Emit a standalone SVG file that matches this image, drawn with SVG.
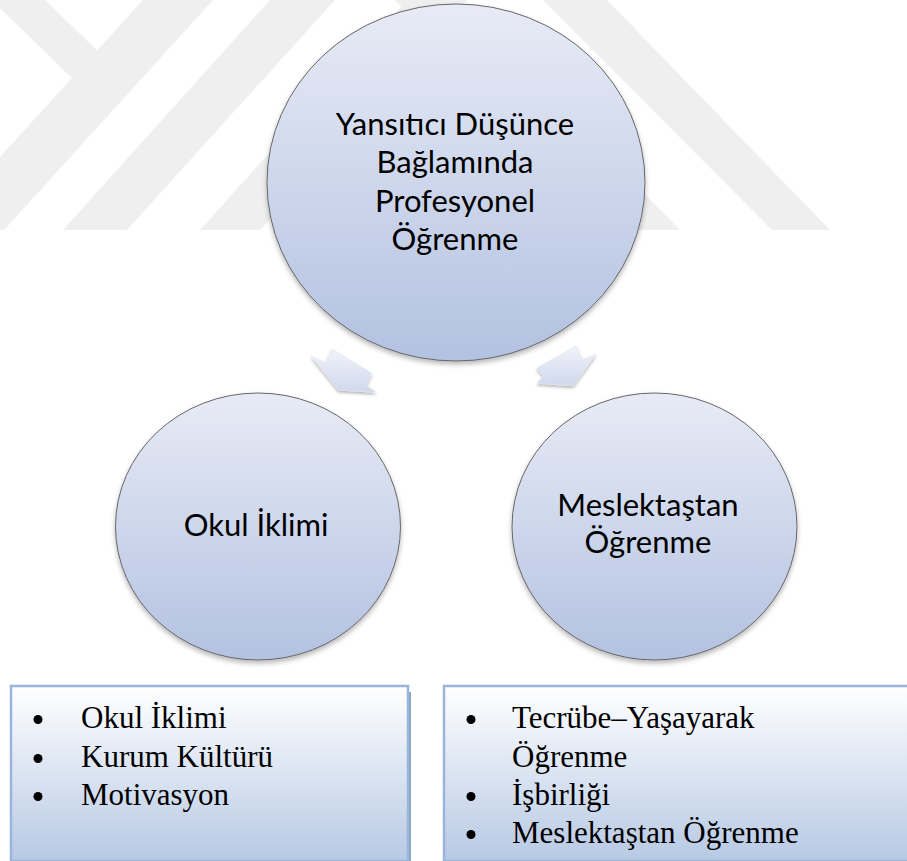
<svg xmlns="http://www.w3.org/2000/svg" width="907" height="861" viewBox="0 0 907 861">
  <defs>
    <linearGradient id="circleFill" x1="0" y1="0" x2="0" y2="1">
      <stop offset="0" stop-color="#e8ebf6"/>
      <stop offset="1" stop-color="#b3c2e1"/>
    </linearGradient>
    <linearGradient id="arrowFill" x1="0" y1="0" x2="0" y2="1">
      <stop offset="0" stop-color="#f1f3fa"/>
      <stop offset="1" stop-color="#d0d8ed"/>
    </linearGradient>
    <linearGradient id="boxFill" x1="0" y1="0" x2="0" y2="1">
      <stop offset="0" stop-color="#ffffff"/>
      <stop offset="1" stop-color="#b7c9e4"/>
    </linearGradient>
    <filter id="softShadow" x="-10%" y="-10%" width="120%" height="125%">
      <feDropShadow dx="0" dy="3" stdDeviation="2.5" flood-color="#000" flood-opacity="0.28"/>
    </filter>
    <filter id="arrowShadow" x="-20%" y="-20%" width="140%" height="150%">
      <feDropShadow dx="0" dy="2" stdDeviation="1.5" flood-color="#000" flood-opacity="0.3"/>
    </filter>
  </defs>
  <style>
    .mark { fill: #efefef; }
    .circle { fill: url(#circleFill); stroke: #666666; stroke-width: 1; filter: url(#softShadow); }
    .arrow { fill: url(#arrowFill); stroke: #e2e6f2; stroke-width: 0.6; filter: url(#arrowShadow); }
    .label { font-family: Lato, "Open Sans", sans-serif; font-size: 31px; fill: #000000; text-anchor: middle; }
    .box { fill: url(#boxFill); stroke: #9bb5da; stroke-width: 2.5; }
    .boxShadow { fill: #8ba3c7; }
    .item { font-family: "Liberation Serif", "Times New Roman", serif; font-size: 31px; fill: #000000; }
    .bullet { fill: #000000; }
  </style>

  <rect width="907" height="861" fill="#ffffff"/>

  <!-- faint background stripes -->
  <g id="watermark">
    <polygon class="mark" points="0,0 45,0 110,63 82,88 0,8"/>
    <polygon class="mark" points="143,0 213,0 4,230 0,230 0,157"/>
    <polygon class="mark" points="270,0 335,0 127,230 63,230"/>
    <polygon class="mark" points="407,0 467,0 260,230 200,230"/>
    <polygon class="mark" points="395,0 455,0 680,230 620,230"/>
    <polygon class="mark" points="543,0 607,0 830,230 772,230"/>
  </g>

  <!-- block arrows from the central topic to the two sub-topics -->
  <g id="connectors">
    <polygon class="arrow" points="311,356 325,362.7 332.3,349.3 371.7,373.3 366,385 375.7,392.3 338.3,390"/>
    <polygon class="arrow" points="596,354 582.7,360 576,346 536.7,368.3 543.3,376 537.3,383.3 573.3,385.7"/>
  </g>

  <g id="node-main">
    <ellipse class="circle" cx="456" cy="182.5" rx="189" ry="178.5"/>
    <text class="label" x="455" y="135">Yansıtıcı Düşünce</text>
    <text class="label" x="455" y="173">Bağlamında</text>
    <text class="label" x="455" y="212">Profesyonel</text>
    <text class="label" x="455" y="250">Öğrenme</text>
  </g>

  <g id="node-okul">
    <ellipse class="circle" cx="258" cy="526.5" rx="142.5" ry="133.5"/>
    <text class="label" x="256" y="536">Okul İklimi</text>
  </g>

  <g id="node-meslek">
    <ellipse class="circle" cx="654.5" cy="526.5" rx="142.5" ry="133.5"/>
    <text class="label" x="648" y="516">Meslektaştan</text>
    <text class="label" x="648" y="553">Öğrenme</text>
  </g>

  <g id="list-okul">
    <rect class="boxShadow" x="14" y="692" width="397" height="175"/>
    <rect class="box" x="11" y="686" width="397" height="175"/>
    <circle class="bullet" cx="38" cy="719.5" r="4.5"/>
    <text class="item" x="81" y="728">Okul İklimi</text>
    <circle class="bullet" cx="38" cy="758.5" r="4.5"/>
    <text class="item" x="81" y="767">Kurum Kültürü</text>
    <circle class="bullet" cx="38" cy="796.5" r="4.5"/>
    <text class="item" x="81" y="805">Motivasyon</text>
  </g>

  <g id="list-meslek">
    <rect class="boxShadow" x="447" y="692" width="470" height="175"/>
    <rect class="box" x="444" y="686" width="470" height="175"/>
    <circle class="bullet" cx="471" cy="719.5" r="4.5"/>
    <text class="item" x="512" y="728">Tecrübe–Yaşayarak</text>
    <text class="item" x="512" y="766.5">Öğrenme</text>
    <circle class="bullet" cx="471" cy="796.5" r="4.5"/>
    <text class="item" x="512" y="805">İşbirliği</text>
    <circle class="bullet" cx="471" cy="834.5" r="4.5"/>
    <text class="item" x="512" y="843">Meslektaştan Öğrenme</text>
  </g>
</svg>
